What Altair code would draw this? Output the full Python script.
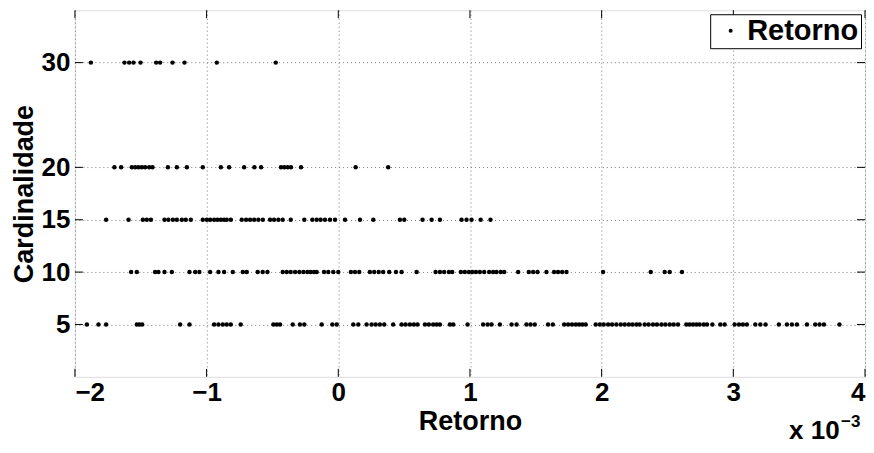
import altair as alt
import pandas as pd

# ---- data (Retorno in units of 1e-3) ----
card_levels = [30, 20, 15, 10, 5]

ret_30 = [-1.879, -1.624, -1.588, -1.555, -1.502, -1.383, -1.353, -1.259, -1.168, -0.923, -0.475]

ret_20 = [-1.700, -1.649, -1.568, -1.542, -1.517, -1.492, -1.467, -1.436, -1.411, -1.294,
          -1.226, -1.150, -1.029, -0.892, -0.829, -0.715, -0.637, -0.586, -0.435, -0.410,
          -0.384, -0.359, -0.283, 0.132, 0.379]

ret_15 = [-1.763, -1.593, -1.484, -1.454, -1.423, -1.320, -1.290, -1.256, -1.226, -1.188,
          -1.158, -1.120, -1.029, -0.998, -0.973, -0.943, -0.918, -0.892, -0.867, -0.847,
          -0.816, -0.733, -0.700, -0.670, -0.639, -0.607, -0.573, -0.518, -0.488, -0.455,
          -0.422, -0.361, -0.258, -0.197, -0.164, -0.134, -0.101, -0.063, -0.025, 0.051,
          0.165, 0.266, 0.468, 0.501, 0.640, 0.709, 0.772, 0.936, 0.974, 1.012, 1.081, 1.156]

ret_10 = [-1.573, -1.530, -1.391, -1.366, -1.320, -1.264, -1.130, -1.087, -1.055, -0.973,
          -0.910, -0.867, -0.801, -0.725, -0.695, -0.612, -0.574, -0.538, -0.422, -0.391,
          -0.361, -0.328, -0.296, -0.265, -0.235, -0.209, -0.184, -0.164, -0.108, -0.076,
          -0.038, 0.000, 0.096, 0.127, 0.159, 0.240, 0.273, 0.307, 0.341, 0.387, 0.438,
          0.481, 0.595, 0.739, 0.772, 0.804, 0.840, 0.865, 0.931, 0.961, 0.992, 1.017,
          1.045, 1.075, 1.108, 1.146, 1.176, 1.202, 1.234, 1.260, 1.366, 1.447, 1.480,
          1.513, 1.581, 1.639, 1.669, 1.700, 1.733, 2.011, 2.373, 2.479, 2.517, 2.610]

ret_5 = [-1.909, -1.821, -1.763, -1.530, -1.510, -1.489, -1.201, -1.130, -0.943, -0.910,
         -0.877, -0.847, -0.816, -0.741, -0.493, -0.467, -0.442, -0.346, -0.291, -0.258,
         -0.126, -0.045, -0.012, 0.114, 0.152, 0.215, 0.253, 0.284, 0.316, 0.349, 0.417,
         0.481, 0.511, 0.544, 0.574, 0.602, 0.658, 0.688, 0.721, 0.747, 0.772, 0.848,
         0.873, 0.982, 1.100, 1.134, 1.164, 1.227, 1.316, 1.354, 1.429, 1.460, 1.492,
         1.593, 1.629, 1.715, 1.745, 1.775, 1.804, 1.829, 1.854, 1.879, 1.955, 1.986,
         2.016, 2.049, 2.079, 2.112, 2.145, 2.175, 2.206, 2.234, 2.264, 2.289, 2.327,
         2.357, 2.390, 2.420, 2.454, 2.484, 2.517, 2.547, 2.580, 2.643, 2.668, 2.694,
         2.719, 2.744, 2.775, 2.800, 2.841, 2.901, 2.934, 3.010, 3.043, 3.073, 3.103,
         3.167, 3.205, 3.245, 3.346, 3.407, 3.445, 3.483, 3.559, 3.622, 3.655, 3.688, 3.806]

x_ticks = [-2, -1, 0, 1, 2, 3, 4]
y_ticks = [5, 10, 15, 20, 30]
x_domain = [-2, 4]
y_domain = [0, 35]
series_name = "Retorno"
x_title = "Retorno"
y_title = "Cardinalidade"
exp_base = "x 10"
exp_power = "\u22123"

rows = []
for c, vals in zip(card_levels, [ret_30, ret_20, ret_15, ret_10, ret_5]):
    for v in vals:
        rows.append({"Retorno": v, "Cardinalidade": c, "serie": series_name})
df = pd.DataFrame(rows)

W, H = 791, 367
FONT = "Liberation Sans"
TL = 8  # inward tick length

xscale = alt.Scale(domain=x_domain, nice=False, zero=False)
yscale = alt.Scale(domain=y_domain, nice=False, zero=False)

axis_style = dict(
    grid=True, ticks=False, domain=False,
    labelFont=FONT, labelFontSize=26, labelFontWeight="bold", labelColor="black",
    titleFont=FONT, titleFontSize=27, titleFontWeight="bold", titleColor="black",
    gridColor="#777777", gridDash=[1, 3], gridWidth=1, gridOpacity=1,
)
x_axis = alt.Axis(values=x_ticks, title=x_title, labelPadding=3, titlePadding=3,
                  format="d", **axis_style)
y_axis = alt.Axis(values=y_ticks, title=y_title, labelPadding=5, titlePadding=3,
                  **axis_style)

points = alt.Chart(df).mark_circle(size=20, opacity=1, color="black").encode(
    x=alt.X("Retorno:Q", scale=xscale, axis=x_axis),
    y=alt.Y("Cardinalidade:Q", scale=yscale, axis=y_axis),
    color=alt.Color("serie:N", scale=alt.Scale(range=["black"]),
                    legend=alt.Legend(title=None, orient="top-right", offset=4,
                                      fillColor="white", strokeColor="black", padding=2,
                                      symbolType="circle", symbolSize=16,
                                      symbolFillColor="black", symbolStrokeWidth=0,
                                      symbolOffset=4, labelOffset=2,
                                      labelFont=FONT, labelFontSize=29,
                                      labelFontWeight="bold", labelColor="black")),
)

xt = pd.DataFrame({"Retorno": x_ticks})
yt = pd.DataFrame({"Cardinalidade": y_ticks})

x_bottom = alt.Chart(xt).mark_rule(color="black", strokeWidth=1).encode(
    x=alt.X("Retorno:Q", scale=xscale, axis=x_axis), y=alt.value(H), y2=alt.value(H - TL))
x_top = alt.Chart(xt).mark_rule(color="black", strokeWidth=1).encode(
    x=alt.X("Retorno:Q", scale=xscale, axis=x_axis), y=alt.value(0), y2=alt.value(TL))
y_left = alt.Chart(yt).mark_rule(color="black", strokeWidth=1).encode(
    y=alt.Y("Cardinalidade:Q", scale=yscale, axis=y_axis), x=alt.value(0), x2=alt.value(TL))
y_right = alt.Chart(yt).mark_rule(color="black", strokeWidth=1).encode(
    y=alt.Y("Cardinalidade:Q", scale=yscale, axis=y_axis), x=alt.value(W), x2=alt.value(W - TL))

exp1 = alt.Chart(pd.DataFrame({"t": [exp_base]})).mark_text(
    font=FONT, fontSize=26, fontWeight="bold", color="black", align="left", baseline="alphabetic"
).encode(text="t:N", x=alt.value(715), y=alt.value(429))
exp2 = alt.Chart(pd.DataFrame({"t": [exp_power]})).mark_text(
    font=FONT, fontSize=17, fontWeight="bold", color="black", align="left", baseline="alphabetic"
).encode(text="t:N", x=alt.value(767), y=alt.value(417))

chart = alt.layer(points, x_bottom, x_top, y_left, y_right, exp1, exp2).properties(
    width=W, height=H,
    autosize=alt.AutoSizeParams(type="none"),
    padding={"left": 67, "top": 2, "right": 1, "bottom": 68},
).configure_view(
    stroke="black", strokeWidth=1
).configure(background="white")

chart.save("out.html", embed_options={"renderer": "svg", "actions": False})
